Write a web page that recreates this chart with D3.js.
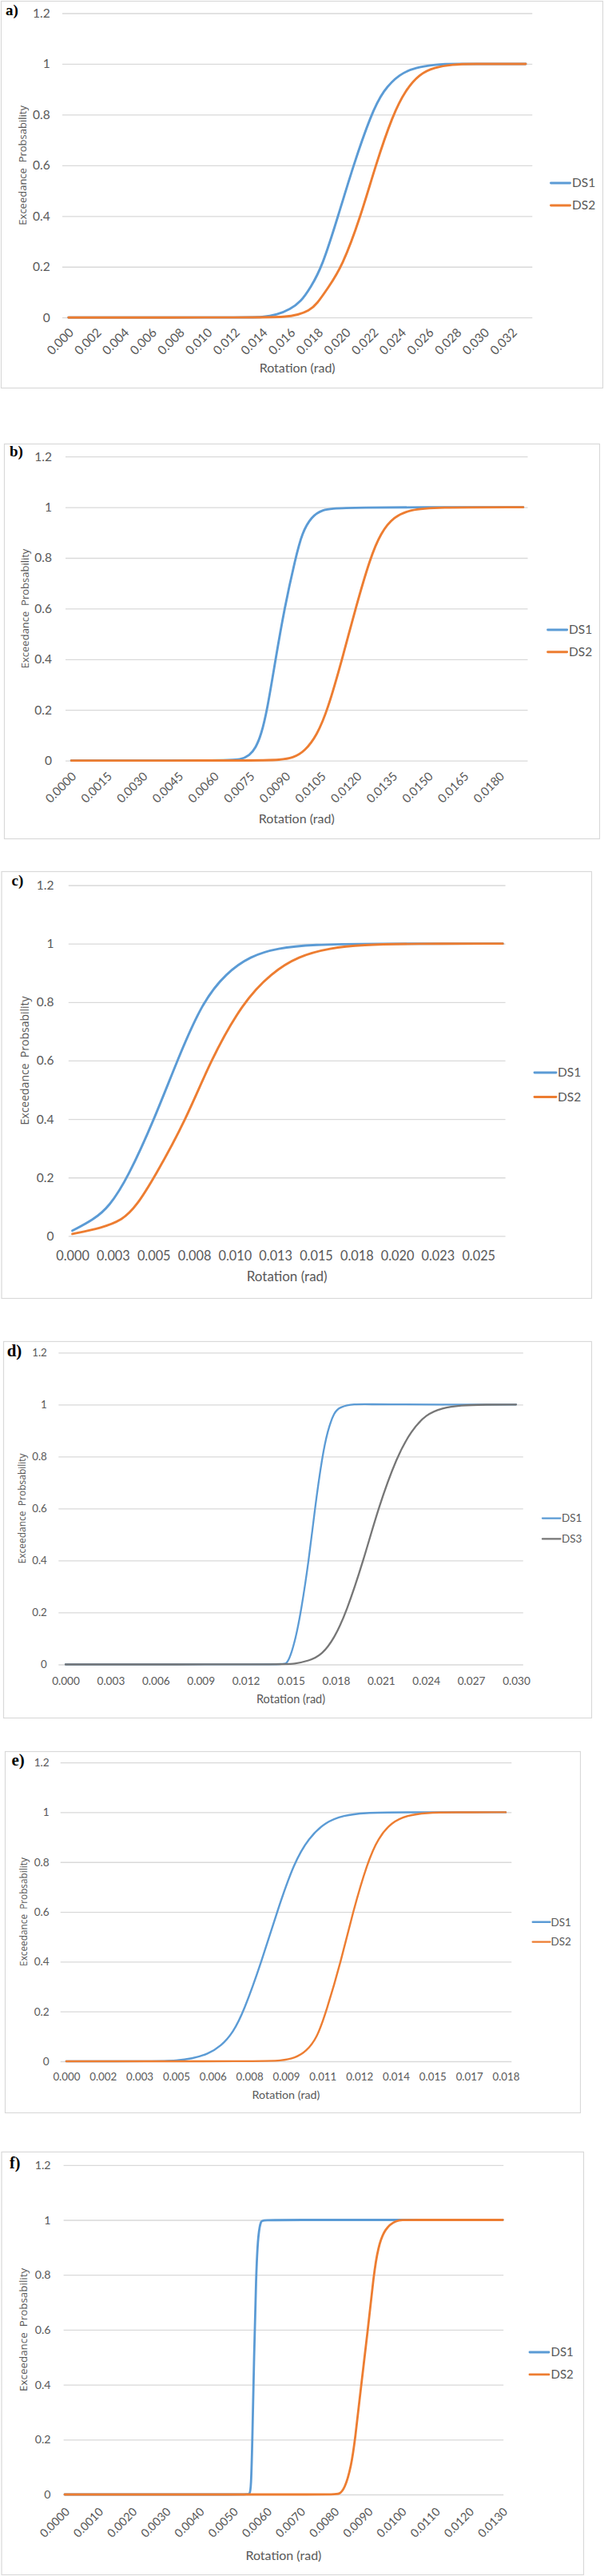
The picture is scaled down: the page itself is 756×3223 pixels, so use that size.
<!DOCTYPE html>
<html>
<head>
<meta charset="utf-8">
<script src="https://cdn.jsdelivr.net/npm/d3@7/dist/d3.min.js"></script>
<style>
  html, body { margin: 0; padding: 0; background: #fff; }
  svg { display: block; }
</style>
</head>
<body>
<svg id="chart" width="756" height="3223"></svg>
<script>
// ---------------- DATA ----------------
const yTickValues = [0, 0.2, 0.4, 0.6, 0.8, 1, 1.2];
const yTickLabels = ["0", "0.2", "0.4", "0.6", "0.8", "1", "1.2"];

// panel a
const aTickValues = [0,0.002,0.004,0.006,0.008,0.010,0.012,0.014,0.016,0.018,0.020,0.022,0.024,0.026,0.028,0.030,0.032];
const aTickLabels = ["0.000","0.002","0.004","0.006","0.008","0.010","0.012","0.014","0.016","0.018","0.020","0.022","0.024","0.026","0.028","0.030","0.032"];
const aDS1 = [[0,0],[0.0125,0],[0.01408,0.001],[0.01504,0.0105],[0.0160,0.032],[0.01678,0.063],[0.01745,0.116],[0.01831,0.2],[0.01946,0.4],[0.02056,0.6],[0.02183,0.8],[0.02273,0.897],[0.02389,0.96],[0.02504,0.986],[0.02658,0.998],[0.0275,1],[0.033,1]];
const aDS2 = [[0,0],[0.0140,0],[0.01562,0.002],[0.01658,0.0105],[0.01735,0.026],[0.01793,0.053],[0.01872,0.116],[0.01975,0.2],[0.0211,0.4],[0.02216,0.6],[0.02341,0.8],[0.02433,0.897],[0.02533,0.96],[0.02638,0.986],[0.02773,0.998],[0.0290,1],[0.033,1]];

// panel b
const bTickValues = [0,0.0015,0.0030,0.0045,0.0060,0.0075,0.0090,0.0105,0.0120,0.0135,0.0150,0.0165,0.0180];
const bTickLabels = ["0.0000","0.0015","0.0030","0.0045","0.0060","0.0075","0.0090","0.0105","0.0120","0.0135","0.0150","0.0165","0.0180"];
const bDS1 = [[0,0],[0.0066,0],[0.0071,0.003],[0.0075,0.02],[0.00775,0.05],[0.00798,0.1],[0.00824,0.2],[0.00859,0.4],[0.00896,0.6],[0.00943,0.8],[0.00971,0.9],[0.0101,0.963],[0.01055,0.99],[0.0112,1],[0.019,1]];
const bDS2 = [[0,0],[0.0080,0],[0.00876,0.003],[0.00932,0.01],[0.00982,0.037],[0.01033,0.1],[0.01078,0.2],[0.01139,0.4],[0.01195,0.6],[0.01257,0.8],[0.01302,0.9],[0.01357,0.963],[0.01425,0.99],[0.01525,1],[0.019,1]];

// panel c
const cTickValues = [0,0.0025,0.0050,0.0075,0.0100,0.0125,0.0150,0.0175,0.0200,0.0225,0.0250];
const cTickLabels = ["0.000","0.003","0.005","0.008","0.010","0.013","0.015","0.018","0.020","0.023","0.025"];
const cDS1 = [[0,0.018],[0.00128,0.055],[0.00227,0.1],[0.00342,0.2],[0.00505,0.4],[0.00645,0.6],[0.0080,0.8],[0.00948,0.9],[0.01096,0.957],[0.0126,0.985],[0.0149,0.997],[0.018,1],[0.0265,1]];
const cDS2 = [[0,0.007],[0.00178,0.027],[0.00309,0.055],[0.00391,0.1],[0.00505,0.2],[0.00702,0.4],[0.0085,0.6],[0.0105,0.8],[0.01227,0.9],[0.01391,0.957],[0.01588,0.985],[0.0178,0.996],[0.021,1],[0.0265,1]];

// panel d
const dTickValues = [0,0.003,0.006,0.009,0.012,0.015,0.018,0.021,0.024,0.027,0.030];
const dTickLabels = ["0.000","0.003","0.006","0.009","0.012","0.015","0.018","0.021","0.024","0.027","0.030"];
const dDS1 = [[0,0],[0.0145,0],[0.0147,0.002],[0.01496,0.028],[0.01532,0.1],[0.01567,0.2],[0.0162,0.4],[0.0166,0.6],[0.01709,0.8],[0.01745,0.9],[0.01789,0.971],[0.01824,0.99],[0.0192,1.003],[0.0203,1],[0.030,1]];
const dDS3 = [[0,0],[0.0148,0],[0.01514,0.002],[0.0162,0.013],[0.01709,0.038],[0.01789,0.1],[0.01869,0.2],[0.01984,0.4],[0.02081,0.6],[0.02206,0.8],[0.02303,0.9],[0.0240,0.962],[0.02507,0.987],[0.0263,0.997],[0.0279,1],[0.030,1]];

// panel e
const eTickValues = [0,0.0015,0.0030,0.0045,0.0060,0.0075,0.0090,0.0105,0.0120,0.0135,0.0150,0.0165,0.0180];
const eTickLabels = ["0.000","0.002","0.003","0.005","0.006","0.008","0.009","0.011","0.012","0.014","0.015","0.017","0.018"];
const eDS1 = [[0,0],[0.0038,0],[0.0045,0.003],[0.00514,0.01],[0.0058,0.029],[0.00634,0.061],[0.00683,0.115],[0.00727,0.2],[0.0080,0.4],[0.00863,0.6],[0.00934,0.8],[0.00994,0.897],[0.0106,0.96],[0.01136,0.988],[0.01223,0.998],[0.0135,1],[0.018,1]];
const eDS2 = [[0,0],[0.0082,0],[0.00874,0.002],[0.00939,0.013],[0.00983,0.04],[0.01027,0.093],[0.01065,0.2],[0.01125,0.4],[0.01174,0.6],[0.01234,0.8],[0.01278,0.897],[0.01332,0.96],[0.01397,0.988],[0.01474,0.998],[0.0158,1],[0.018,1]];

// panel f
const fTickValues = [0,0.001,0.002,0.003,0.004,0.005,0.006,0.007,0.008,0.009,0.010,0.011,0.012,0.013];
const fTickLabels = ["0.0000","0.0010","0.0020","0.0030","0.0040","0.0050","0.0060","0.0070","0.0080","0.0090","0.0100","0.0110","0.0120","0.0130"];
const fDS1 = [[0,0],[0.0054,0],[0.00549,0],[0.00553,0.02],[0.00557,0.2],[0.00562,0.5],[0.00568,0.8],[0.00574,0.95],[0.00583,1],[0.0059,1],[0.013,1]];
const fDS2 = [[0,0],[0.0080,0],[0.00814,0],[0.00831,0.02],[0.0085,0.1],[0.00862,0.2],[0.0088,0.4],[0.0090,0.6],[0.00917,0.8],[0.0093,0.9],[0.0095,0.97],[0.00985,1],[0.0101,1],[0.013,1]];

const panelLetters = ["a)", "b)", "c)", "d)", "e)", "f)"];
const yTitle = "Exceedance  Probsability";
const xTitle = "Rotation (rad)";

// ---------------- STYLE / LAYOUT ----------------
const COLORS = { DS1: "#5B9BD5", DS2: "#ED7D31", DS3: "#767676" };
const TEXT_GRAY = "#595959";
const GRID = "#D9D9D9";

const panels = [
  { letter: panelLetters[0], ticks: aTickValues, labels: aTickLabels, xmax: 0.033,
    series: [["DS1", aDS1], ["DS2", aDS2]], lineW: 2.9,
    frame: [1, 1, 754, 485], grid: [78, 666.3], xr: [85.8, 658], yr: [397.2, 16.5], rot: true,
    tickFont: 15.5, yFont: 15.5, yLabelX: 62.7, xTickDy: 16,
    letterPos: [7, 19, 19], yTitleX: 28, yTitleFont: 13, xTitleY: 460.5, xTitleFont: 16,
    legend: { x1: 689.5, x2: 713.6, ys: [229, 257], tx: 716, font: 15.5 } },
  { letter: panelLetters[1], ticks: bTickValues, labels: bTickLabels, xmax: 0.019,
    series: [["DS1", bDS1], ["DS2", bDS2]], lineW: 2.9,
    frame: [5, 555, 750, 1049], grid: [82, 660.5], xr: [89.2, 654.8], yr: [951.6, 571.2], rot: true,
    tickFont: 15, yFont: 15.5, yLabelX: 65, xTickDy: 17,
    letterPos: [12, 571, 19], yTitleX: 31, yTitleFont: 13, xTitleY: 1024.6, xTitleFont: 16,
    legend: { x1: 685.6, x2: 709.7, ys: [788, 815.7], tx: 712, font: 15.5 } },
  { letter: panelLetters[2], ticks: cTickValues, labels: cTickLabels, xmax: 0.0265,
    series: [["DS1", cDS1], ["DS2", cDS2]], lineW: 2.9,
    frame: [1.5, 1090, 740, 1624], grid: [85.8, 632.6], xr: [90.6, 629.2], yr: [1546.4, 1107.5], rot: false,
    tickFont: 16.3, yFont: 15.5, yLabelX: 67.5, xTickY: 1571.4,
    letterPos: [14.5, 1108, 19], yTitleX: 31, yTitleFont: 14, xTitleY: 1597.5, xTitleFont: 17,
    legend: { x1: 669, x2: 696, ys: [1342, 1372.5], tx: 698, font: 15.5 } },
  { letter: panelLetters[3], ticks: dTickValues, labels: dTickLabels, xmax: 0.030,
    series: [["DS1", dDS1], ["DS3", dDS3]], lineW: 2.3,
    frame: [4, 1678, 740, 2149], grid: [73.3, 654.8], xr: [82, 646], yr: [2082.5, 1692.3], rot: false,
    tickFont: 13.6, yFont: 13.3, yLabelX: 58.8, xTickY: 2103,
    letterPos: [8.7, 1697, 21], yTitleX: 28, yTitleFont: 12, xTitleY: 2125.5, xTitleFont: 14.5,
    legend: { x1: 679, x2: 701.5, ys: [1899.6, 1925.4], tx: 703, font: 13.5 } },
  { letter: panelLetters[4], ticks: eTickValues, labels: eTickLabels, xmax: 0.018,
    series: [["DS1", eDS1], ["DS2", eDS2]], lineW: 2.4,
    frame: [6, 2191, 726, 2643], grid: [75.7, 640.3], xr: [82.9, 633], yr: [2579, 2205.1], rot: false,
    tickFont: 13.3, yFont: 13.6, yLabelX: 61.7, xTickY: 2598.7,
    letterPos: [14.5, 2209, 21], yTitleX: 30, yTitleFont: 11.8, xTitleY: 2621, xTitleFont: 14.3,
    legend: { x1: 666.8, x2: 688.5, ys: [2404.8, 2429.6], tx: 689.5, font: 13.5 } },
  { letter: panelLetters[5], ticks: fTickValues, labels: fTickLabels, xmax: 0.013,
    series: [["DS1", fDS1], ["DS2", fDS2]], lineW: 2.8,
    frame: [1.5, 2692, 730, 3221], grid: [79.6, 630.2], xr: [81, 629.2], yr: [3121, 2708.8], rot: true,
    tickFont: 14.5, yFont: 14.2, yLabelX: 63.6, xTickDy: 19,
    letterPos: [12, 2713, 20], yTitleX: 29, yTitleFont: 13.4, xTitleY: 3197, xTitleFont: 16,
    legend: { x1: 663, x2: 687, ys: [2943, 2970.9], tx: 689.5, font: 15 } }
];

// ---------------- DRAW ----------------
const svg = d3.select("#chart");
svg.append("rect").attr("width", 756).attr("height", 3223).attr("fill", "#fff");

panels.forEach(p => {
  const g = svg.append("g");
  const [fx0, fy0, fx1, fy1] = p.frame;
  g.append("rect")
    .attr("x", fx0 + 0.5).attr("y", fy0 + 0.5)
    .attr("width", fx1 - fx0).attr("height", fy1 - fy0)
    .attr("fill", "#fff").attr("stroke", GRID).attr("stroke-width", 1.2);

  const x = d3.scaleLinear().domain([0, p.xmax]).range(p.xr);
  const y = d3.scaleLinear().domain([0, 1.2]).range(p.yr);

  // gridlines + y labels via axisLeft
  const yAxis = d3.axisLeft(y)
    .tickValues(yTickValues)
    .tickFormat((d, i) => yTickLabels[i])
    .tickSize(-(p.grid[1] - p.grid[0]))
    .tickPadding(p.grid[0] - p.yLabelX);
  const ya = g.append("g").attr("transform", `translate(${p.grid[0]},0)`).call(yAxis);
  ya.select(".domain").remove();
  ya.selectAll(".tick line").attr("stroke", GRID).attr("stroke-width", 1.3);
  ya.selectAll(".tick text")
    .attr("fill", TEXT_GRAY)
    .style("font-family", "Lato, 'Open Sans', sans-serif")
    .style("font-size", p.yFont + "px");

  // x axis labels via axisBottom
  const xAxis = d3.axisBottom(x)
    .tickValues(p.ticks)
    .tickFormat((d, i) => p.labels[i])
    .tickSize(0);
  const xa = g.append("g").attr("transform", `translate(0,${p.yr[0]})`).call(xAxis);
  xa.select(".domain").remove();
  const tt = xa.selectAll(".tick text")
    .attr("fill", TEXT_GRAY)
    .style("font-family", "Lato, 'Open Sans', sans-serif")
    .style("font-size", p.tickFont + "px");
  if (p.rot) {
    tt.attr("y", 0).attr("dy", "0.35em")
      .attr("text-anchor", "end")
      .attr("transform", `translate(3,${p.xTickDy}) rotate(-45)`);
  } else {
    tt.attr("y", p.xTickY - p.yr[0]).attr("dy", "0.35em");
  }

  // series lines (smooth B-spline through the read points)
  const line = d3.line()
    .x(d => x(d[0]))
    .y(d => y(d[1]))
    .curve(d3.curveBasis);
  p.series.forEach(([name, data]) => {
    g.append("path")
      .datum(data)
      .attr("d", line)
      .attr("fill", "none")
      .attr("stroke", COLORS[name])
      .attr("stroke-width", p.lineW)
      .attr("stroke-linecap", "round")
      .attr("stroke-linejoin", "round");
  });

  // legend
  p.series.forEach(([name], i) => {
    const ly = p.legend.ys[i];
    g.append("line")
      .attr("x1", p.legend.x1).attr("x2", p.legend.x2)
      .attr("y1", ly).attr("y2", ly)
      .attr("stroke", COLORS[name]).attr("stroke-width", p.lineW)
      .attr("stroke-linecap", "round");
    g.append("text")
      .attr("x", p.legend.tx).attr("y", ly).attr("dy", "0.35em")
      .attr("fill", TEXT_GRAY)
      .style("font-family", "Lato, 'Open Sans', sans-serif")
      .style("font-size", p.legend.font + "px")
      .text(name);
  });

  // axis titles
  const yMid = (p.yr[0] + p.yr[1]) / 2;
  g.append("text")
    .attr("transform", `translate(${p.yTitleX},${yMid}) rotate(-90)`)
    .attr("text-anchor", "middle").attr("dy", "0.35em")
    .attr("fill", TEXT_GRAY)
    .style("font-family", "'Open Sans', sans-serif")
    .style("font-size", p.yTitleFont + "px")
    .style("white-space", "pre")
    .text(yTitle);
  g.append("text")
    .attr("x", (p.grid[0] + p.grid[1]) / 2).attr("y", p.xTitleY).attr("dy", "0.35em")
    .attr("text-anchor", "middle")
    .attr("fill", TEXT_GRAY)
    .style("font-family", "Lato, 'Open Sans', sans-serif")
    .style("font-size", p.xTitleFont + "px")
    .text(xTitle);

  // panel letter
  g.append("text")
    .attr("x", p.letterPos[0]).attr("y", p.letterPos[1])
    .attr("fill", "#000")
    .style("font-family", "'Liberation Serif', 'Times New Roman', serif")
    .style("font-weight", "bold")
    .style("font-size", p.letterPos[2] + "px")
    .text(p.letter);
});
</script>
</body>
</html>
